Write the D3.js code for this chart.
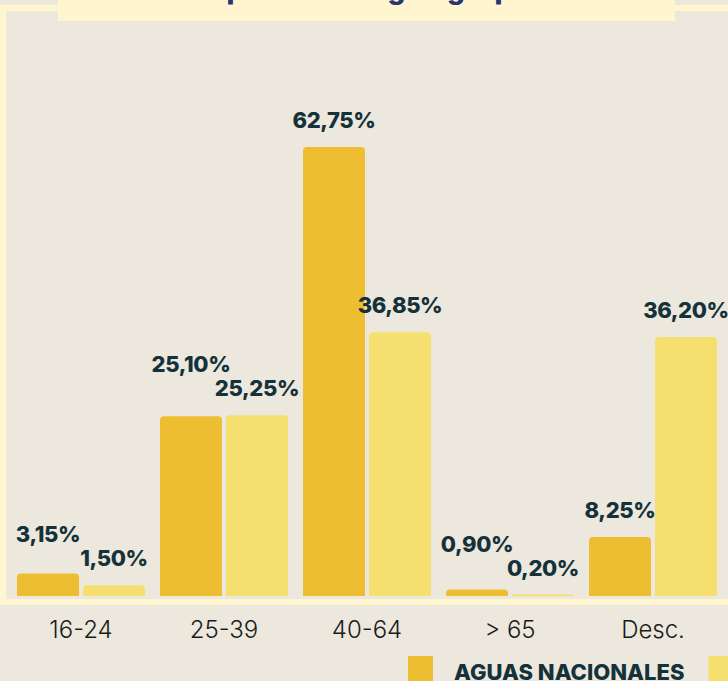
<!DOCTYPE html>
<html>
<head>
<meta charset="utf-8">
<script src="https://cdn.jsdelivr.net/npm/d3@7"></script>
<style>
  html, body { margin: 0; padding: 0; background: #ECE8DD; overflow: hidden; }
  svg { display: block; }
</style>
</head>
<body>
<div id="chart"></div>
<script>
// ---- Data ----
const categories = ["16-24", "25-39", "40-64", "> 65", "Desc."];
const seriesNames = ["AGUAS NACIONALES", "AGUAS INTERNACIONALES"];
const nacionales = [3.15, 25.10, 62.75, 0.90, 8.25];
const internacionales = [1.50, 25.25, 36.85, 0.20, 36.20];
const titleText = "Distribución por edad según grupo";

// ---- Styles ----
const W = 728, H = 681;
const colors = ["#EDBD32", "#F5DF6E"];
const bg = "#ECE8DD";
const cream = "#FFF5CE";
const labelColor = "#15313A";

const svg = d3.select("#chart").append("svg")
  .attr("width", W).attr("height", H);

svg.append("rect").attr("width", W).attr("height", H).attr("fill", bg);

// frame
svg.append("rect")
  .attr("x", 3).attr("y", 8)
  .attr("width", 728).attr("height", 594)
  .attr("fill", "none").attr("stroke", cream).attr("stroke-width", 6);

// title box
svg.append("rect")
  .attr("x", 58).attr("y", -40)
  .attr("width", 617).attr("height", 61)
  .attr("fill", cream);
svg.append("text")
  .attr("x", 290).attr("y", -1)
  .attr("text-anchor", "middle")
  .attr("font-family", "Inter, 'Open Sans', sans-serif")
  .attr("font-weight", 800)
  .attr("font-size", 28)
  .attr("fill", "#27366E")
  .text(titleText);

// ---- Scales ----
const baseY = 596;
const x0 = d3.scaleBand().domain(categories).range([17, 717]).paddingInner(15 / 143).paddingOuter(0);
const x1 = d3.scaleBand().domain([0, 1]).range([0, x0.bandwidth()]).paddingInner(4 / 66).paddingOuter(0);
const y = d3.scaleLinear().domain([0, 70]).range([baseY, 95]);

const fmt = d3.formatLocale({ decimal: ",", thousands: ".", grouping: [3], currency: ["", "€"] }).format(".2f");

const data = categories.map((c, i) => ({ cat: c, vals: [nacionales[i], internacionales[i]] }));

function topRounded(x, yTop, w, h, r) {
  r = Math.min(r, h, w / 2);
  return `M${x},${yTop + h} V${yTop + r} Q${x},${yTop} ${x + r},${yTop} H${x + w - r} Q${x + w},${yTop} ${x + w},${yTop + r} V${yTop + h} Z`;
}

const groups = svg.append("g").selectAll("g").data(data).join("g")
  .attr("transform", d => `translate(${x0(d.cat)},0)`);

groups.selectAll("path").data(d => d.vals.map((v, s) => ({ v, s }))).join("path")
  .attr("d", d => topRounded(x1(d.s), y(d.v), x1.bandwidth(), baseY - y(d.v), 4))
  .attr("fill", d => colors[d.s]);

// value labels: when the two labels of a group would collide, the first one is lifted a line
const gap = 19, lineStep = 24;
groups.each(function (d) {
  const g = d3.select(this);
  const b2 = y(d.vals[1]) - gap;
  let b1 = y(d.vals[0]) - gap;
  if (Math.abs(b1 - b2) < lineStep) b1 = b2 - lineStep;
  [b1, b2].forEach((by, s) => {
    g.append("text")
      .attr("x", x1(s) + x1.bandwidth() / 2)
      .attr("y", by)
      .attr("text-anchor", "middle")
      .attr("font-family", "Inter, 'Open Sans', sans-serif")
      .attr("font-weight", 800)
      .attr("font-size", 22)
      .attr("letter-spacing", -0.4)
      .attr("fill", labelColor)
      .text(fmt(d.vals[s]) + "%");
  });
});

// category axis
const axis = svg.append("g")
  .attr("transform", `translate(0,638)`)
  .call(d3.axisBottom(x0).tickSize(0).tickPadding(0));
axis.select(".domain").remove();
axis.selectAll("text")
  .attr("y", 0).attr("dy", null)
  .attr("font-family", "Inter, 'Open Sans', sans-serif")
  .attr("font-weight", 300)
  .attr("font-size", 24)
  .attr("fill", "#1B1B1B");

// legend
const legend = svg.append("g");
let lx = 408;
seriesNames.forEach((name, s) => {
  legend.append("rect").attr("x", lx).attr("y", 656).attr("width", 25).attr("height", 30).attr("fill", colors[s]);
  const t = legend.append("text")
    .attr("x", lx + 46).attr("y", 680)
    .attr("font-family", "Inter, 'Open Sans', sans-serif")
    .attr("font-weight", 800)
    .attr("font-size", 22)
    .attr("fill", labelColor)
    .text(name);
  lx += 46 + t.node().getComputedTextLength() + 24;
});
</script>
</body>
</html>
